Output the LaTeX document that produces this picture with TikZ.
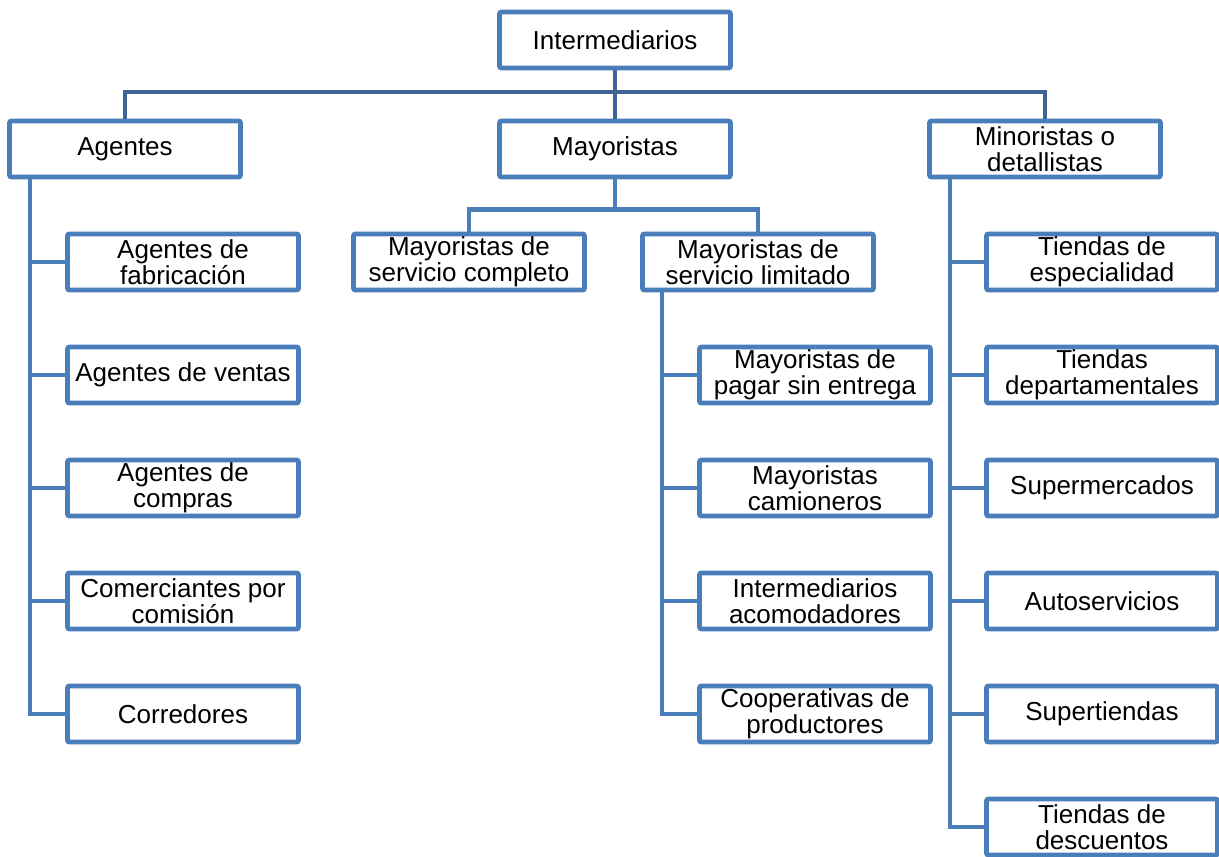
\documentclass[tikz,border=0pt]{standalone}
\usepackage{fontspec}
\setmainfont{Liberation Sans}
\usetikzlibrary{positioning}

\definecolor{boxblue}{RGB}{74,126,187}
\definecolor{busblue}{RGB}{62,100,150}

\begin{document}
\begin{tikzpicture}[
  x=0.5pt,
  y=-0.5pt,
  box/.style={
    draw=boxblue,
    line width=2.4pt,
    rounded corners=1pt,
    fill=white,
    minimum width=115.5pt,
    minimum height=28pt,
    inner sep=0pt,
    align=center,
    font=\fontsize{13}{13.2}\selectfont,
  },
  link/.style={draw=boxblue, line width=2.2pt},
  toplink/.style={draw=busblue, line width=2.2pt},
]
  \useasboundingbox (0,0) rectangle (1219,856);

  % first two levels
  \node[box] (int) at (615,40) {Intermediarios};
  \node[box] (ag) at (125,149) {Agentes};
  \node[box] (may) at (615,149) {Mayoristas};
  \node[box] (min) at (1045,149) {Minoristas o\\detallistas};
  \node[box] (mc) at (469,262) {Mayoristas de\\servicio completo};
  \node[box] (ml) at (758,262) {Mayoristas de\\servicio limitado};

  \coordinate (bus) at (615,92);
  \draw[toplink] (ag.north) |- (bus) -| (min.north);
  \draw[toplink] (int.south) -- (may.north);

  \draw[link] (may.south) -- ++(0,30) coordinate (mb);
  \draw[link] (mc.north) |- (mb) -| (ml.north);

  % agentes
  \foreach \name/\txt [count=\i] in {
    ag1/{Agentes de\\fabricación},
    ag2/{Agentes de ventas},
    ag3/{Agentes de\\compras},
    ag4/{Comerciantes por\\comisión},
    ag5/{Corredores}%
  } {
    \node[box] (\name) at (183,262+113*\i-113) {\txt};
    \draw[link] (ag.south west) ++(23,0) |- (\name.west);
  }

  % mayoristas de servicio limitado
  \foreach \name/\txt [count=\i] in {
    ml1/{Mayoristas de\\pagar sin entrega},
    ml2/{Mayoristas\\camioneros},
    ml3/{Intermediarios\\acomodadores},
    ml4/{Cooperativas de\\productores}%
  } {
    \node[box] (\name) at (815,375+113*\i-113) {\txt};
    \draw[link] (ml.south west) ++(22,0) |- (\name.west);
  }

  % minoristas
  \foreach \name/\txt [count=\i] in {
    mn1/{Tiendas de\\especialidad},
    mn2/{Tiendas\\departamentales},
    mn3/{Supermercados},
    mn4/{Autoservicios},
    mn5/{Supertiendas},
    mn6/{Tiendas de\\descuentos}%
  } {
    \node[box] (\name) at (1102,262+113*\i-113) {\txt};
    \draw[link] (min.south west) ++(23,0) |- (\name.west);
  }
\end{tikzpicture}
\end{document}
